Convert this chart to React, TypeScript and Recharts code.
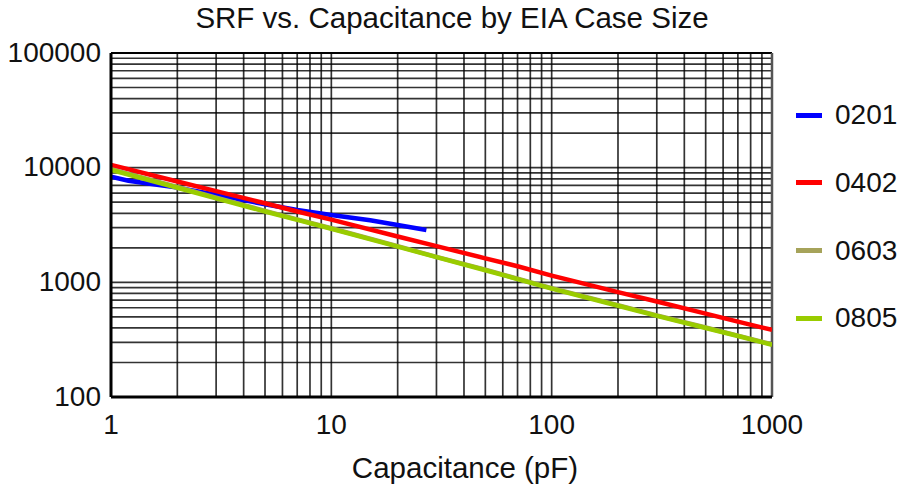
import { CartesianGrid, Line, LineChart, ReferenceLine, XAxis, YAxis } from "recharts";

// capacitance (pF) and self-resonant frequency (MHz) per EIA case size
const cap0201 = [1, 1.2, 1.5, 2, 3, 5, 7, 10, 15, 20, 27];
const srf0201 = [8350, 7700, 7250, 6700, 5800, 4800, 4280, 3870, 3480, 3160, 2860];

const cap0402 = [1, 2, 3, 5, 7, 10, 20, 30, 50, 70, 100, 200, 300, 500, 700, 1000];
const srf0402 = [10560, 7580, 6240, 4890, 4150, 3520, 2510, 2070, 1620, 1380, 1145, 822, 680, 533, 454, 385];

const cap0603 = [1, 2, 3, 5, 7, 10, 20, 30, 50, 70, 100, 200, 300, 500, 700, 1000];
const srf0603 = [9700, 6780, 5480, 4200, 3540, 2960, 2070, 1670, 1290, 1075, 890, 632, 515, 404, 343, 288];

const cap0805 = [1, 2, 3, 5, 7, 10, 20, 30, 50, 70, 100, 200, 300, 500, 700, 1000];
const srf0805 = [9550, 6680, 5400, 4150, 3500, 2930, 2050, 1660, 1275, 1068, 881, 625, 510, 400, 340, 285];

const X_TICKS = [1, 2, 3, 4, 5, 6, 7, 8, 9, 10, 20, 30, 40, 50, 60, 70, 80, 90, 100, 200, 300, 400, 500, 600, 700, 800, 900, 1000];
const Y_TICKS = [
  100, 200, 300, 400, 500, 600, 700, 800, 900, 1000, 2000, 3000, 4000, 5000, 6000, 7000, 8000, 9000,
  10000, 20000, 30000, 40000, 50000, 60000, 70000, 80000, 90000, 100000,
];
const X_LABELS = [1, 10, 100, 1000];
const Y_LABELS = [100, 1000, 10000, 100000];

const toPoints = (caps: number[], srf: number[]) => caps.map((c, i) => ({ c, f: srf[i] }));

const SERIES = [
  { name: "0201", color: "#0000ff", data: toPoints(cap0201, srf0201) },
  { name: "0402", color: "#ff0000", data: toPoints(cap0402, srf0402) },
  { name: "0603", color: "#a6a35a", data: toPoints(cap0603, srf0603) },
  { name: "0805", color: "#99cc00", data: toPoints(cap0805, srf0805) },
];

const FONT = "'Liberation Sans', Arial, sans-serif";

function XTick({ x, y, payload }: any) {
  if (!X_LABELS.includes(payload.value)) return <g />;
  return (
    <text x={x} y={y + 27} textAnchor="middle" dominantBaseline="central" fontSize={28} fontFamily={FONT} fill="#111">
      {payload.value}
    </text>
  );
}

function YTick({ x, y, payload }: any) {
  if (!Y_LABELS.includes(payload.value)) return <g />;
  return (
    <text x={x - 10} y={y - 1} textAnchor="end" dominantBaseline="central" fontSize={28} fontFamily={FONT} fill="#111">
      {payload.value}
    </text>
  );
}

export default function App() {
  return (
    <div style={{ position: "absolute", left: 0, top: 0, width: 901, height: 493, background: "#fff", fontFamily: FONT, color: "#111" }}>
      <div style={{ position: "absolute", left: 0, top: 3, width: 904, textAlign: "center", fontSize: 29.5, lineHeight: "30px" }}>
        SRF vs. Capacitance by EIA Case Size
      </div>

      <LineChart width={901} height={493} margin={{ top: 53, right: 129, bottom: 36, left: 0 }}>
        <CartesianGrid stroke="#000" strokeOpacity={0.8} strokeWidth={1.7} />
        <XAxis
          dataKey="c"
          type="number"
          scale="log"
          domain={[1, 1000]}
          ticks={X_TICKS}
          interval={0}
          allowDataOverflow
          height={60}
          tickSize={0}
          tickMargin={0}
          tickLine={false}
          axisLine={{ stroke: "#000", strokeWidth: 3 }}
          tick={<XTick />}
        />
        <YAxis
          dataKey="f"
          type="number"
          scale="log"
          domain={[100, 100000]}
          ticks={Y_TICKS}
          interval={0}
          allowDataOverflow
          width={111}
          tickSize={0}
          tickMargin={0}
          tickLine={false}
          axisLine={{ stroke: "#000", strokeWidth: 3 }}
          tick={<YTick />}
        />
        <ReferenceLine y={100000} stroke="#000" strokeWidth={2} />
        <ReferenceLine x={1000} stroke="#555" strokeWidth={2.5} />
        {SERIES.map((s) => (
          <Line
            key={s.name}
            data={s.data}
            dataKey="f"
            type="linear"
            stroke={s.color}
            strokeWidth={4.5}
            dot={false}
            activeDot={false}
            isAnimationActive={false}
          />
        ))}
      </LineChart>

      <div style={{ position: "absolute", left: 0, top: 453, width: 930, textAlign: "center", fontSize: 29.5, lineHeight: "30px" }}>
        Capacitance (pF)
      </div>

      {SERIES.map((s, i) => (
        <div
          key={s.name}
          style={{ position: "absolute", left: 796, top: 100 + i * 67.8, height: 30, display: "flex", alignItems: "center" }}
        >
          <span style={{ display: "inline-block", width: 26, height: 5, background: s.color }} />
          <span style={{ marginLeft: 13, fontSize: 28, lineHeight: "30px" }}>{s.name}</span>
        </div>
      ))}
    </div>
  );
}
